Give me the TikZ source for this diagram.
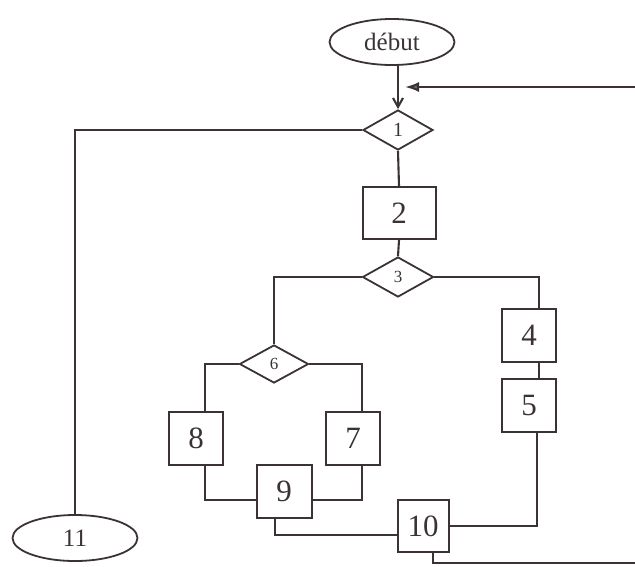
\documentclass[tikz,border=0pt]{standalone}
\usepackage{fontspec}
\setmainfont{Liberation Serif}
\usetikzlibrary{shapes.geometric,arrows.meta}
\definecolor{ink}{HTML}{3B3238}
\tikzset{
  box/.style={draw=ink, line width=2pt, rectangle, inner sep=0pt,
    minimum width=54pt, minimum height=53pt, text=ink,
    font=\fontsize{31}{31}\selectfont},
  test/.style={draw=ink, line width=1.8pt, diamond, inner sep=0pt,
    minimum width=70pt, minimum height=40pt, text=ink},
  term/.style={draw=ink, line width=1.8pt, ellipse, inner sep=0pt,
    minimum width=125pt, minimum height=46pt, text=ink},
  link/.style={line width=2.1pt, draw=ink, line join=miter},
}
\begin{document}
\begin{tikzpicture}[x=1pt,y=-1pt]
\useasboundingbox (0,0) rectangle (635,566);

% terminals
\node[term, font=\fontsize{25}{25}\selectfont] (debut) at (392,42) {début};
\node[term, font=\fontsize{25}{25}\selectfont] (fin) at (75,538) {11};

% tests
\node[test, font=\fontsize{20}{20}\selectfont] (t1) at (398,130) {1};
\node[test, minimum width=71pt, font=\fontsize{17}{17}\selectfont] (t3) at (398,277) {3};
\node[test, minimum width=69pt, minimum height=38pt, font=\fontsize{17}{17}\selectfont] (t6) at (274,364) {6};

% actions
\node[box, minimum width=73pt, minimum height=52pt] (b2) at (399,213) {2};
\node[box] (b4) at (529,335) {4};
\node[box] (b5) at (529,405) {5};
\node[box] (b7) at (353,438) {7};
\node[box] (b8) at (196,438) {8};
\node[box, minimum width=55pt] (b9) at (284,491) {9};
\node[box, minimum width=51pt, minimum height=52pt] (b10) at (423,526) {10};

% loop-back coordinates
\coordinate (back) at (635,87);
\coordinate (join) at (398,87);
\coordinate (out) at (433,563);
\coordinate (outr) at (635,563);

% main flow
\draw[link, -{Straight Barb[length=9pt,width=10pt]}] (debut.south -| t1.north) -- (t1.north);
\draw[link, -{Latex[length=14pt,width=10pt,fill=ink!70]}] (back) -- ([xshift=7pt]join);
\draw[link] (t1.west) -| (fin.north);
\draw[link] (t1.south) -- (b2.north);
\draw[link] (b2.south) -- (t3.north);

% right branch of test 3
\draw[link] (t3.east) -| ([xshift=10pt]b4.north);
\draw[link] ([xshift=10pt]b4.south) -- ([xshift=10pt]b5.north);
\draw[link] ([xshift=8pt]b5.south) |- (b10.east);

% left branch of test 3
\draw[link] (t3.west) -| (t6.north);
\draw[link] (t6.west) -| ([xshift=9pt]b8.north);
\draw[link] (t6.east) -| ([xshift=9pt]b7.north);
\draw[link] ([xshift=9pt]b8.south) |- (b9.west |- 0,500);
\draw[link] ([xshift=9pt]b7.south) |- (b9.east |- 0,500);
\draw[link] ([xshift=-9pt]b9.south) |- (b10.west |- 0,535);

% exit from 10
\draw[link] ([xshift=10pt]b10.south) -- (out) -- (outr);
\end{tikzpicture}
\end{document}
